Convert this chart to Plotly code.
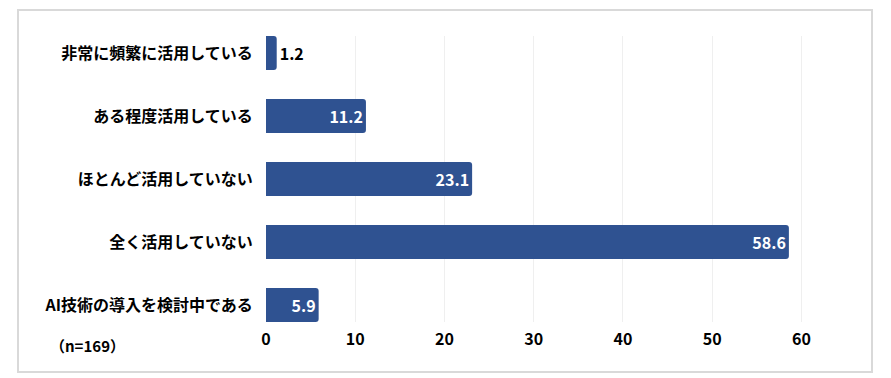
import plotly.graph_objects as go

categories = ["非常に頻繁に活用している", "ある程度活用している", "ほとんど活用していない",
              "全く活用していない", "AI技術の導入を検討中である"]
values = [1.2, 11.2, 23.1, 58.6, 5.9]
tick_vals = [0, 10, 20, 30, 40, 50, 60]
note = "（n=169）"

FONT = "Noto Sans CJK JP"
OFF = 8  # page body margin
W, H = 891 - OFF, 378 - OFF
L, R, T, B = 266 - OFF, 45, 36 - OFF, 56
xmax = 65

fig = go.Figure(go.Bar(
    x=values, y=categories, orientation="h",
    marker=dict(color="#2F5291", cornerradius=3, line=dict(width=0)),
    width=0.54,
    text=[f"{v:.1f}" for v in values],
    textposition="auto",
    insidetextanchor="end",
    insidetextfont=dict(family=FONT, size=16, color="white", weight="bold"),
    outsidetextfont=dict(family=FONT, size=16, color="black", weight="bold"),
    cliponaxis=False,
))

fig.update_layout(
    width=W, height=H,
    margin=dict(l=L, r=R, t=T, b=B, autoexpand=False),
    paper_bgcolor="white", plot_bgcolor="white",
    showlegend=False,
    font=dict(family=FONT, color="black"),
    xaxis=dict(range=[0, xmax], tickvals=tick_vals, showgrid=True, gridcolor="#efefef",
               gridwidth=1, zeroline=False, showline=False, automargin=False,
               tickfont=dict(family=FONT, size=16, color="black", weight="bold"),
               ticks="outside", ticklen=3, tickcolor="rgba(0,0,0,0)"),
    yaxis=dict(type="category", categoryorder="array", categoryarray=categories,
               range=[4.27, -0.27], showgrid=False, zeroline=False, showline=False,
               automargin=False,
               tickfont=dict(family=FONT, size=16, color="black", weight="bold"),
               ticks="outside", ticklen=9, tickcolor="rgba(0,0,0,0)"),
)

pw = W - L - R
ph = H - T - B
def px(x):
    return (x - OFF - L) / pw
def py(y):
    return (H - B - (y - OFF)) / ph

fig.add_shape(type="rect", xref="paper", yref="paper",
              x0=px(18), x1=px(872), y0=py(372), y1=py(10),
              line=dict(color="#d9d9d9", width=2), fillcolor="rgba(0,0,0,0)", layer="below")

fig.add_annotation(text=note, xref="paper", yref="paper", x=px(48), y=py(345),
                   xanchor="left", yanchor="middle", showarrow=False,
                   font=dict(family=FONT, size=15, color="black", weight="bold"))

fig.write_html("out.html")
